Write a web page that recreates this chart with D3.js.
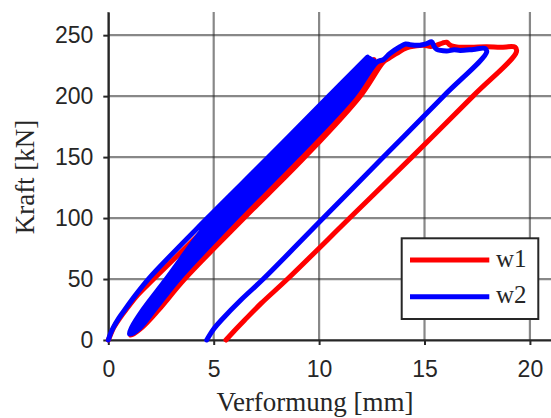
<!DOCTYPE html>
<html>
<head>
<meta charset="utf-8">
<script src="https://cdn.jsdelivr.net/npm/d3@7"></script>
<style>
  body { margin: 0; background: white; }
</style>
</head>
<body>
<div id="canvas"></div>
<script>
// ticks and labels
const xTicks = [0, 5, 10, 15, 20];
const yTicks = [0, 50, 100, 150, 200, 250];
const xTitle = "Verformung [mm]";
const yTitle = "Kraft [kN]";
const seriesNames = ["w1", "w2"];
const seriesColors = ["#ff0000", "#0000ff"];

// w1 (red): first loading, load cycles, final loading + unloading  [mm, kN]
const w1Virgin = [[0, 0], [0.1, 4], [0.25, 10], [0.55, 18], [0.85, 25], [1.4, 37], [2.15, 50],
    [5.1, 100], [8.1, 150], [10.85, 200], [12.6, 230]];
const w1Cycles = [
    [[12.6, 230], [11.05, 200], [8.3, 150], [5.45, 100], [3.0, 50], [1.78, 25], [1.18, 10], [1.06, 4],
     [1.52, 10], [2.3, 25], [3.5, 50], [6.3, 100], [9.15, 150], [11.8, 200], [12.9, 229]],
    [[12.9, 229], [11.1, 200], [8.35, 150], [5.5, 100], [3.05, 50], [1.82, 25], [1.2, 10], [1.08, 4],
     [1.58, 10], [2.4, 25], [3.62, 50], [6.44, 100], [9.32, 150], [11.95, 200], [13.05, 228]]
];
const w1Final = [[13.3, 231], [13.68, 235], [14.0, 238.5], [14.31, 240.4], [14.94, 241.8], [15.3, 240.8],
    [15.58, 241.8], [15.85, 243.5], [16.05, 244.2], [16.2, 242], [16.29, 241.2], [16.53, 240.4],
    [17.2, 240.1], [17.95, 240.6], [18.6, 240], [19.29, 240.2], [19.36, 236.3],
    [17.3, 200], [14.4, 150], [11.45, 100], [8.5, 50], [7.25, 30], [6.45, 16], [5.95, 7], [5.58, 0]];

// w2 (blue)
const w2Virgin = [[0, 0], [0.1, 5], [0.23, 10], [0.5, 18], [0.79, 25], [1.3, 37], [1.9, 50],
    [4.7, 100], [7.6, 150], [10.45, 200], [12.3, 232]];
const w2Cycles = [
    [[12.3, 232], [10.55, 200], [7.72, 150], [4.92, 100], [2.75, 50], [1.65, 25], [1.1, 10], [1.0, 5],
     [1.35, 10], [2.0, 25], [3.1, 50], [5.6, 100], [8.45, 150], [11.15, 200], [12.4, 231]],
    [[12.4, 231], [10.7, 200], [7.87, 150], [5.05, 100], [2.82, 50], [1.7, 25], [1.12, 10], [1.02, 5],
     [1.4, 10], [2.07, 25], [3.18, 50], [5.75, 100], [8.6, 150], [11.3, 200], [12.5, 230]],
    [[12.5, 230], [10.85, 200], [8.02, 150], [5.18, 100], [2.9, 50], [1.75, 25], [1.14, 10], [1.04, 5],
     [1.45, 10], [2.14, 25], [3.26, 50], [5.9, 100], [8.75, 150], [11.45, 200], [12.6, 229]],
    [[12.6, 229], [11.0, 200], [8.15, 150], [5.3, 100], [2.98, 50], [1.8, 25], [1.16, 10], [1.05, 5],
     [1.5, 10], [2.2, 25], [3.34, 50], [6.05, 100], [8.9, 150], [11.6, 200], [12.75, 228]]
];
const w2Final = [[13.05, 230], [13.36, 235], [13.84, 240.5], [14.1, 242.8], [14.31, 242.2], [14.78, 241.8],
    [15.1, 243], [15.34, 244.5], [15.45, 241], [15.58, 238.3], [16.05, 237.1], [16.4, 238],
    [16.69, 237.5], [17.32, 238.3], [17.87, 239.1], [17.95, 236.3],
    [15.9, 200], [13.05, 150], [10.2, 100], [7.35, 50], [6.3, 33], [5.4, 17], [5.0, 9], [4.67, 0]];

// Dimensions
var w = 551;
var h = 418;
var margin = {top: 12, right: 0, bottom: 78, left: 108.3};

var svg = d3.select("#canvas")
    .append("svg")
    .attr("width", w)
    .attr("height", h)
    .style("background-color", "white");

let x_scale = d3.scaleLinear()
    .domain([0, 21])
    .range([margin.left, w - margin.right]);

let y_scale = d3.scaleLinear()
    .domain([0, 269])
    .range([h - margin.bottom, margin.top]);

// Grid
svg.append("g")
    .selectAll("line")
    .data(xTicks)
    .join("line")
    .attr("x1", d => x_scale(d))
    .attr("x2", d => x_scale(d))
    .attr("y1", y_scale(0))
    .attr("y2", y_scale(269))
    .attr("stroke", "#262626")
    .attr("stroke-opacity", 0.55)
    .attr("stroke-width", 2.2);

svg.append("g")
    .selectAll("line")
    .data(yTicks)
    .join("line")
    .attr("x1", x_scale(0))
    .attr("x2", x_scale(21))
    .attr("y1", d => y_scale(d))
    .attr("y2", d => y_scale(d))
    .attr("stroke", "#262626")
    .attr("stroke-opacity", 0.55)
    .attr("stroke-width", 2.2);

// Axes
var xAxis = svg.append("g")
    .attr("transform", `translate(0,${y_scale(0)})`)
    .call(d3.axisBottom(x_scale).tickValues(xTicks).tickSize(5).tickSizeOuter(0).tickPadding(16));

var yAxis = svg.append("g")
    .attr("transform", `translate(${x_scale(0)},0)`)
    .call(d3.axisLeft(y_scale).tickValues(yTicks).tickSize(5).tickSizeOuter(0).tickPadding(10));

[xAxis, yAxis].forEach(a => {
    a.select(".domain").attr("stroke", "#262626").attr("stroke-width", 2);
    a.selectAll(".tick line").attr("stroke", "#262626").attr("stroke-width", 2);
    a.selectAll(".tick text")
        .style("font-family", "'Liberation Sans', Arial, sans-serif")
        .style("font-size", "23px")
        .attr("fill", "#262626");
});

// Axis titles
svg.append("text")
    .attr("x", 315)
    .attr("y", 411)
    .attr("text-anchor", "middle")
    .style("font-family", "'Liberation Serif', 'Times New Roman', serif")
    .style("font-size", "27px")
    .style("fill", "#262626")
    .text(xTitle);

svg.append("text")
    .attr("transform", "translate(33.5,177) rotate(-90)")
    .attr("text-anchor", "middle")
    .style("font-family", "'Liberation Serif', 'Times New Roman', serif")
    .style("font-size", "27px")
    .style("fill", "#262626")
    .text(yTitle);

// Curves
var line = d3.line()
    .x(d => x_scale(d[0]))
    .y(d => y_scale(d[1]))
    .curve(d3.curveCatmullRom.alpha(0.5));

var curves = [
    w1Virgin.concat(...w1Cycles, w1Final),
    w2Virgin.concat(...w2Cycles, w2Final)
];

svg.append("g")
    .selectAll("path")
    .data(curves)
    .join("path")
    .attr("d", d => line(d))
    .attr("fill", "none")
    .attr("stroke", (d, i) => seriesColors[i])
    .attr("stroke-width", 5)
    .attr("stroke-linejoin", "round")
    .attr("stroke-linecap", "round");

// Legend
var legend = svg.append("g").attr("transform", "translate(401.7,238.3)");

legend.append("rect")
    .attr("width", 136.6)
    .attr("height", 80.7)
    .attr("fill", "white")
    .attr("stroke", "#262626")
    .attr("stroke-width", 2);

seriesNames.forEach((name, i) => {
    legend.append("line")
        .attr("x1", 8.3)
        .attr("x2", 87.6)
        .attr("y1", 21.7 + i * 36.7)
        .attr("y2", 21.7 + i * 36.7)
        .attr("stroke", seriesColors[i])
        .attr("stroke-width", 5);
    legend.append("text")
        .attr("x", 94.3)
        .attr("y", 28.7 + i * 36.2)
        .style("font-family", "'Liberation Serif', 'Times New Roman', serif")
        .style("font-size", "25px")
        .style("fill", "#262626")
        .text(name);
});
</script>
</body>
</html>
